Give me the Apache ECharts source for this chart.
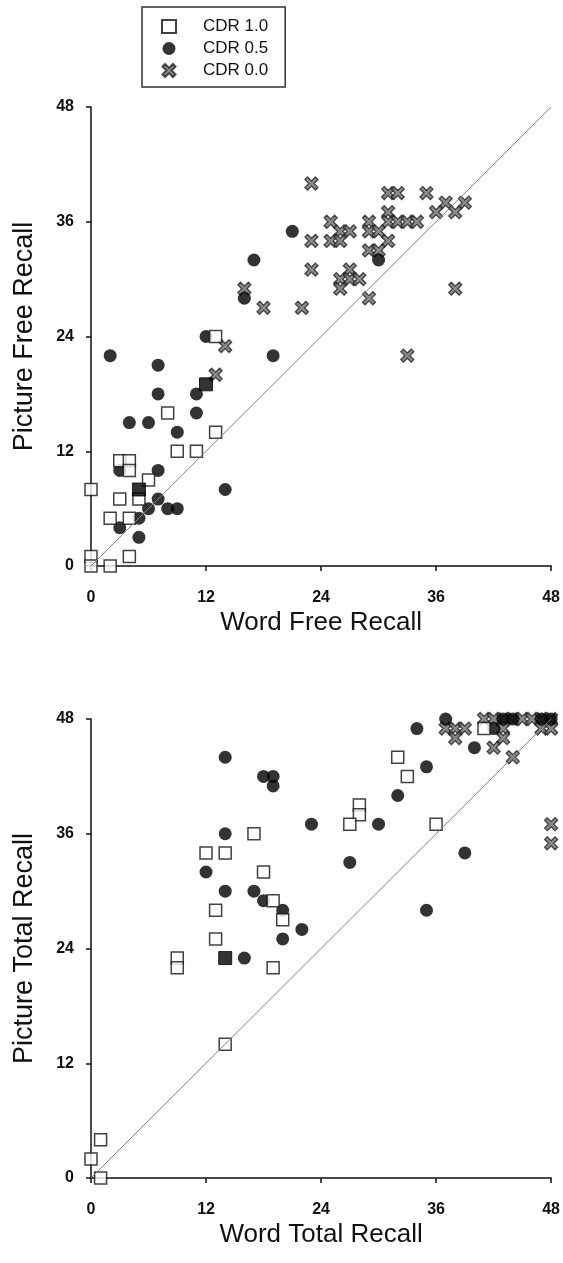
<!DOCTYPE html>
<html>
<head>
<meta charset="utf-8">
<script src="https://cdn.jsdelivr.net/npm/echarts@6/dist/echarts.min.js"></script>
<style>
html,body{margin:0;padding:0;background:#fff;}
#chart{width:563px;height:1263px;}
</style>
</head>
<body>
<div id="chart"></div>
<script>
// ---- data ----
var ticks = [0, 12, 24, 36, 48];
var seriesNames = ['CDR 1.0', 'CDR 0.5', 'CDR 0.0'];
var identityLine = [[0, 0], [48, 48]];

// Top panel: Word Free Recall (x) vs Picture Free Recall (y)
var freeCDR10 = [[13,24],[8,16],[13,14],[9,12],[11,12],[3,11],[4,11],[4,10],[6,9],[0,8],[3,7],[5,7],[2,5],[4,5],[4,1],[0,1],[0,0],[2,0]];
var freeCDR05 = [[21,35],[17,32],[16,28],[12,24],[2,22],[19,22],[7,21],[7,18],[11,18],[11,16],[4,15],[6,15],[9,14],[3,10],[7,10],[14,8],[7,7],[6,6],[8,6],[9,6],[5,5],[3,4],[5,3],[30,32]];
var freeCDR00 = [[23,40],[23,34],[23,31],[16,29],[18,27],[22,27],[14,23],[13,20],[31,39],[32,39],[35,39],[37,38],[39,38],[36,37],[38,37],[31,37],[25,36],[29,36],[31,36],[32,36],[33,36],[34,36],[26,35],[27,35],[29,35],[30,35],[25,34],[26,34],[31,34],[29,33],[30,33],[27,31],[26,30],[27,30],[28,30],[26,29],[29,28],[38,29],[33,22]];
var freeOverlap = [[12,19],[5,8]];

// Bottom panel: Word Total Recall (x) vs Picture Total Recall (y)
var totalCDR10 = [[17,36],[12,34],[14,34],[18,32],[19,29],[13,28],[20,27],[13,25],[9,23],[9,22],[19,22],[14,14],[1,4],[0,2],[1,0],[32,44],[33,42],[28,39],[28,38],[27,37],[36,37],[41,47]];
var totalCDR05 = [[14,44],[18,42],[19,42],[19,41],[23,37],[14,36],[12,32],[14,30],[17,30],[18,29],[20,28],[22,26],[20,25],[16,23],[37,48],[43,48],[44,48],[47,48],[48,48],[42,47],[34,47],[40,45],[35,43],[32,40],[30,37],[27,33],[39,34],[35,28]];
var totalCDR00 = [[41,48],[42,48],[43,48],[44,48],[45,48],[46,48],[47,48],[48,48],[37,47],[38,47],[39,47],[43,47],[47,47],[48,47],[38,46],[43,46],[42,45],[44,44],[48,37],[48,35]];
var totalOverlap = [[14,23]];

var xTitles = ['Word Free Recall', 'Word Total Recall'];
var yTitles = ['Picture Free Recall', 'Picture Total Recall'];

// ---- styling ----
var FONT = '"Liberation Sans", Arial, Helvetica, sans-serif';
var XPATH = 'path://M2,0 L5,3 L8,0 L10,2 L7,5 L10,8 L8,10 L5,7 L2,10 L0,8 L3,5 L0,2 Z';

function makeAxis(isX, idx) {
  return {
    type: 'value', gridIndex: idx, min: 0, max: 48, interval: 12,
    name: isX ? xTitles[idx] : yTitles[idx],
    nameLocation: 'middle',
    nameGap: isX ? 44 : 53,
    nameTextStyle: { fontFamily: FONT, fontSize: isX ? 26 : 27, color: '#111' },
    axisLine: { show: true, onZero: false, lineStyle: { color: '#111', width: 1.5 } },
    axisTick: { show: true, inside: false, length: 5, lineStyle: { color: '#111', width: 1.5 } },
    axisLabel: { fontFamily: FONT, fontSize: 16, fontWeight: 'bold', color: '#111', margin: isX ? 24 : 17,
      formatter: function (v) { return ticks.indexOf(v) >= 0 ? String(v) : ''; } },
    splitLine: { show: false }
  };
}

function panelSeries(idx, c10, c05, c00, overlap) {
  return [
    { name: 'CDR 0.0', type: 'scatter', xAxisIndex: idx, yAxisIndex: idx, data: c00, clip: false, z: 2,
      symbol: XPATH, symbolSize: 13,
      itemStyle: { color: '#6e6e6e', borderColor: '#222', borderWidth: 1.3 } },
    { name: 'CDR 0.5', type: 'scatter', xAxisIndex: idx, yAxisIndex: idx, data: c05, clip: false, z: 3,
      symbol: 'circle', symbolSize: 13,
      itemStyle: { color: '#000' } },
    { name: 'CDR 1.0', type: 'scatter', xAxisIndex: idx, yAxisIndex: idx, data: c10, clip: false, z: 4,
      symbol: 'rect', symbolSize: 12,
      itemStyle: { color: '#fff', borderColor: '#111', borderWidth: 1.5 } },
    { name: 'overlap', type: 'scatter', xAxisIndex: idx, yAxisIndex: idx, data: overlap, clip: false, z: 5,
      symbol: 'rect', symbolSize: 13,
      itemStyle: { color: '#000', borderColor: '#000', borderWidth: 1 } },
    { name: 'identity', type: 'line', xAxisIndex: idx, yAxisIndex: idx, data: identityLine, z: 6,
      symbol: 'none', silent: true, lineStyle: { color: '#808080', width: 1 } }
  ];
}

var chart = echarts.init(document.getElementById('chart'), null, { renderer: 'canvas' });
chart.setOption({
  animation: false,
  backgroundColor: '#fff',
  legend: {
    data: seriesNames,
    orient: 'vertical',
    left: 142, top: 7,
    padding: [11, 17, 8, 19],
    itemWidth: 14, itemHeight: 13, itemGap: 5,
    borderColor: '#333', borderWidth: 1.5,
    textStyle: { fontFamily: FONT, fontSize: 17, color: '#111', padding: [0, 0, 0, 22] }
  },
  grid: [
    { left: 91, top: 107, width: 461, height: 459 },
    { left: 91, top: 719, width: 461, height: 459 }
  ],
  xAxis: [makeAxis(true, 0), makeAxis(true, 1)],
  yAxis: [makeAxis(false, 0), makeAxis(false, 1)],
  series: panelSeries(0, freeCDR10, freeCDR05, freeCDR00, freeOverlap)
    .concat(panelSeries(1, totalCDR10, totalCDR05, totalCDR00, totalOverlap))
});
</script>
</body>
</html>
